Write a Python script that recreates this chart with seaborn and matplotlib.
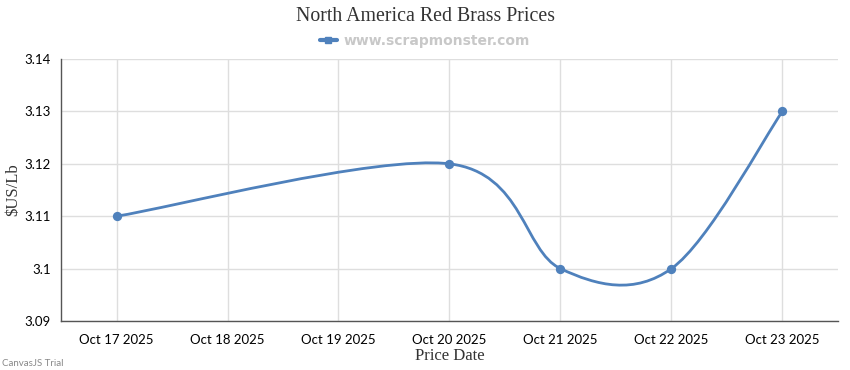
import matplotlib
matplotlib.use("Agg")
import matplotlib.pyplot as plt
from matplotlib.path import Path
from matplotlib.patches import PathPatch
from matplotlib.lines import Line2D
import pandas as pd
import seaborn as sns

# data
day = [17, 20, 21, 22, 23]
price = [3.11, 3.12, 3.10, 3.10, 3.13]
tick_days = [17, 18, 19, 20, 21, 22, 23]
tick_labels = [f"Oct {d} 2025" for d in tick_days]
y_ticks = [3.09, 3.10, 3.11, 3.12, 3.13, 3.14]

LINE = "#4F81BC"
GRID = "#DEDEDE"
AXIS = "#555555"


def spline_path(xs, ys, tension=2.0):
    # CanvasJS style cardinal spline turned into cubic Bezier segments
    pts = list(zip(xs, ys))
    n = len(pts)
    verts = [pts[0]]
    codes = [Path.MOVETO]
    for i in range(1, n):
        a = i - 1
        i1, i2 = max(a - 1, 0), min(a + 1, n - 1)
        cp1 = (pts[a][0] + (pts[i2][0] - pts[i1][0]) / tension / 3,
               pts[a][1] + (pts[i2][1] - pts[i1][1]) / tension / 3)
        i1, i2 = max(i - 1, 0), min(i + 1, n - 1)
        cp2 = (pts[i][0] - (pts[i2][0] - pts[i1][0]) / tension / 3,
               pts[i][1] - (pts[i2][1] - pts[i1][1]) / tension / 3)
        verts += [cp1, cp2, pts[i]]
        codes += [Path.CURVE4] * 3
    return Path(verts, codes)


sns.set_style("white")
plt.rcParams["font.family"] = ["Lato", "DejaVu Sans"]

df = pd.DataFrame({"day": day, "price": price})

fig = plt.figure(figsize=(8.5, 3.7), dpi=100)
ax = fig.add_axes([0.0718, 0.1324, 0.914, 0.7081])

ax.add_patch(PathPatch(spline_path(day, price), fill=False, edgecolor=LINE,
                       linewidth=2, zorder=3))
sns.scatterplot(data=df, x="day", y="price", color=LINE, s=45,
                edgecolor=LINE, linewidth=0, ax=ax, zorder=4)

ax.set_xlim(16.5, 23.5)
ax.set_ylim(3.09, 3.14)
ax.set_xticks(tick_days)
ax.set_xticklabels(tick_labels)
ax.set_yticks(y_ticks)
ax.set_yticklabels([f"{v:g}" for v in y_ticks])
ax.grid(True, color=GRID, linewidth=1)
ax.set_axisbelow(True)

for side in ["top", "right"]:
    ax.spines[side].set_visible(False)
for side in ["left", "bottom"]:
    ax.spines[side].set_color(AXIS)
    ax.spines[side].set_linewidth(1)

ax.tick_params(axis="both", direction="out", length=5, width=1, color=AXIS,
               labelsize=9.5, labelcolor="#000000", pad=4)
ax.tick_params(axis="y", pad=2.5)

ax.set_xlabel("Price Date", family="Liberation Serif", fontsize=12,
              color="#333333", labelpad=2)
ax.set_ylabel("\\$US/Lb", family="Liberation Serif", fontsize=12,
              color="#333333")
ax.yaxis.set_label_coords(-0.051, 0.5)

fig.text(0.5, 0.955, "North America Red Brass Prices", ha="center",
         va="center", family="Liberation Serif", fontsize=14.3, color="#333333")

handle = Line2D([], [], color=LINE, linewidth=3, marker="s", markersize=5)
leg = fig.legend([handle], ["www.scrapmonster.com"], loc="center",
                 bbox_to_anchor=(0.5, 0.889), frameon=False, handlelength=1.2,
                 handletextpad=0.5,
                 prop={"family": "DejaVu Sans", "weight": "bold", "size": 10})
for t in leg.get_texts():
    t.set_color("#C8C8C8")

fig.text(0.002, 0.017, "CanvasJS Trial", ha="left", va="center",
         fontsize=7, color="#888888")

fig.savefig("out.png", dpi=100)
